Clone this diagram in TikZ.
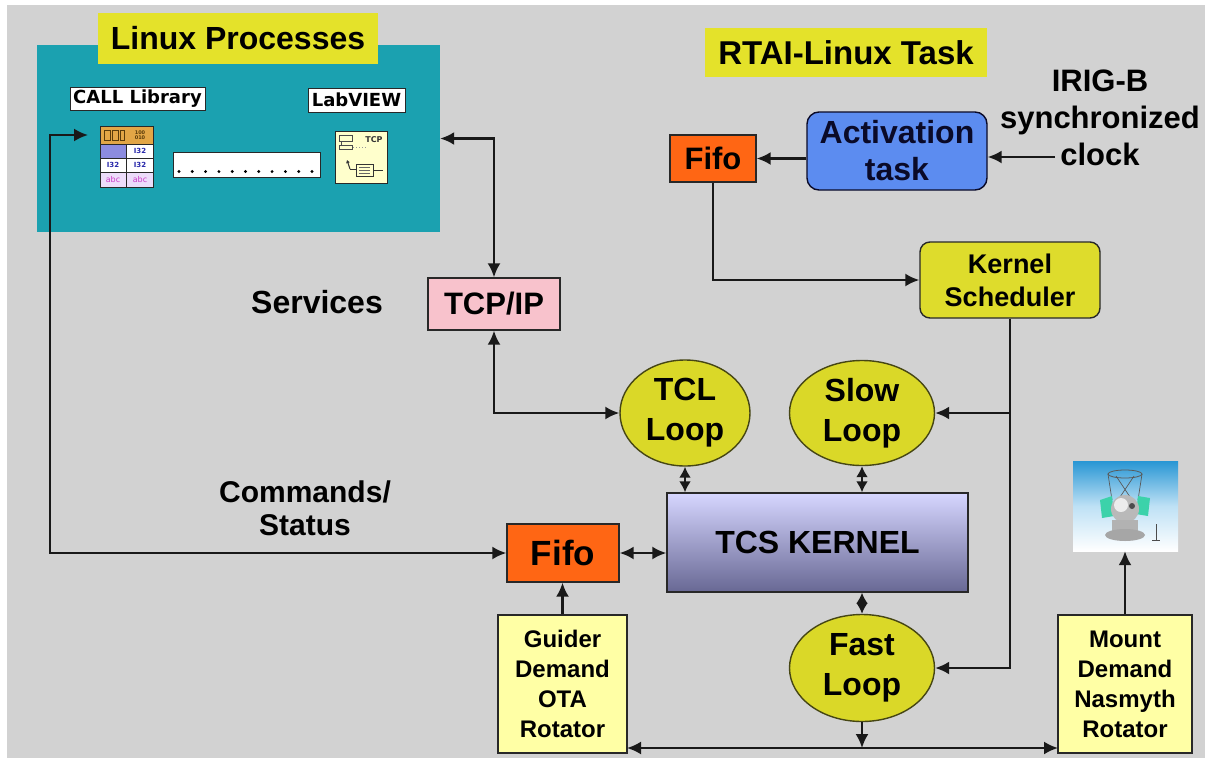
\documentclass[tikz,border=0pt]{standalone}
\usepackage{fontspec}
\setmainfont{Liberation Sans}
\newfontfamily\lvfont{DejaVu Sans}
\usetikzlibrary{shapes.geometric,arrows.meta,calc}

\definecolor{bggray}{RGB}{210,210,210}
\definecolor{tealbox}{RGB}{27,161,176}
\definecolor{taglabel}{RGB}{228,226,42}
\definecolor{loopfill}{RGB}{218,216,40}
\definecolor{loopedge}{RGB}{70,70,20}
\definecolor{schedfill}{RGB}{222,220,44}
\definecolor{fifofill}{RGB}{255,102,20}
\definecolor{pinkfill}{RGB}{248,194,204}
\definecolor{actfill}{RGB}{92,140,240}
\definecolor{acttext}{RGB}{10,10,40}
\definecolor{demandfill}{RGB}{255,255,165}
\definecolor{kerntop}{RGB}{214,214,255}
\definecolor{kernbot}{RGB}{104,104,148}
\definecolor{linecol}{RGB}{25,25,25}
\definecolor{edgecol}{RGB}{40,40,40}
\definecolor{iconorange}{RGB}{226,166,70}
\definecolor{iconbrown}{RGB}{90,60,10}
\definecolor{iconblue}{RGB}{140,140,224}
\definecolor{iconlav}{RGB}{236,220,250}
\definecolor{icondeep}{RGB}{40,40,170}
\definecolor{iconmag}{RGB}{200,60,200}
\definecolor{tcpfill}{RGB}{255,255,204}
\definecolor{skytop}{RGB}{40,150,212}
\definecolor{skymid}{RGB}{190,225,245}
\definecolor{mintgreen}{RGB}{60,210,170}

\newcommand{\fsz}[2]{\bfseries\fontsize{#1}{#2}\selectfont}

\begin{document}
\begin{tikzpicture}[x=1pt,y=-1pt,
  conn/.style={draw=linecol,line width=2.2pt},
  arr/.style={conn,-{Latex[length=14pt,width=13pt]}},
  darr/.style={conn,{Latex[length=14pt,width=13pt]}-{Latex[length=14pt,width=13pt]}},
  sdarr/.style={conn,{Latex[length=11pt,width=12pt]}-{Latex[length=11pt,width=12pt]}},
  tag/.style={fill=taglabel,inner sep=0pt,text=black},
  lvtag/.style={draw=edgecol,line width=0.8pt,fill=white,inner sep=0pt,font=\lvfont\bfseries\fontsize{18}{20}\selectfont},
  blk/.style={draw=edgecol,line width=1.4pt,inner sep=0pt,align=center,text=black},
  loop/.style={blk,draw=loopedge,ellipse,fill=loopfill,font=\fsz{32}{40}},
  plain/.style={inner sep=0pt,align=center,text=black}
]
\useasboundingbox (0,0) rectangle (1208,758);
\fill[white] (0,0) rectangle (1208,758);
\fill[bggray] (7,5) rectangle (1205,758);

% ---- Linux processes panel ----
\node[fill=tealbox,inner sep=0pt,minimum width=403pt,minimum height=187pt] (lp) at (238.5,138.5) {};
\node[tag,font=\fsz{32}{36},minimum width=280pt,minimum height=51pt] (lptitle) at (238,38) {Linux Processes};
\node[lvtag,minimum width=135pt,minimum height=23pt] (calllbl) at (137.5,98.5) {CALL Library};
\node[lvtag,minimum width=97pt,minimum height=24pt] (lvlbl) at (356.5,100) {LabVIEW};

% CALL library icon
\node[draw=edgecol,line width=1pt,fill=white,inner sep=0pt,minimum width=53pt,minimum height=61pt] (callicon) at (126.5,156.5) {};
\fill[iconorange] (100.5,126.5) rectangle (152.5,144);
\fill[iconblue] (100.5,144) rectangle (126.5,158);
\fill[iconlav] (100.5,172) rectangle (152.5,186.5);
\draw[edgecol,line width=0.8pt] (100.5,144) -- (152.5,144) (100.5,158) -- (152.5,158) (100.5,172) -- (152.5,172) (126.5,144) -- (126.5,186.5);
\draw[iconbrown,line width=0.9pt] (104,130) rectangle (110,140) (112,130) rectangle (118,140) (120,130) rectangle (124,140);
\node[plain,font=\lvfont\bfseries\fontsize{5}{5}\selectfont,text=iconbrown,align=center] (callbits) at (140,135) {100\\010};
\foreach \cx/\cy in {140/151, 113/165, 140/165}
  \node[plain,font=\lvfont\bfseries\fontsize{7}{7}\selectfont,text=icondeep] at (\cx,\cy) {I32};
\foreach \cx in {113,140}
  \node[plain,font=\lvfont\fontsize{8}{8}\selectfont,text=iconmag] at (\cx,179.5) {abc};

% dotted placeholder
\node[draw=edgecol,line width=1pt,fill=white,inner sep=0pt,minimum width=147pt,minimum height=25pt] (dotbox) at (246.5,164.5) {};
\foreach \i in {0,...,10} \fill[black] (179+\i*13.3,171.5) circle (1.6pt);

% TCP icon
\node[draw=edgecol,line width=1pt,fill=tcpfill,inner sep=0pt,minimum width=52pt,minimum height=52pt] (tcpicon) at (361,157) {};
\node[plain,font=\lvfont\bfseries\fontsize{8}{8}\selectfont,text=black!80] (tcptxt) at (374,140) {TCP};
\draw[black!70,line width=0.8pt] (339,135) rectangle (352,141) (341,141) -- (341,145) (339,145) rectangle (352,149);
\draw[black!40,line width=1pt,dotted] (353,147) -- (366,147);
\draw[black!80,line width=1pt,-{Latex[length=3pt,width=4pt]}] (350,169) -- (347,160);
\draw[black!80,line width=0.9pt] (350,169) -- (356,169) (356,164) rectangle (373,176) (373,170) -- (383,170);
\draw[black!60,line width=0.6pt] (359,167) -- (370,167) (359,170) -- (370,170) (359,173) -- (370,173);

% ---- RTAI side ----
\node[tag,font=\fsz{33}{36},minimum width=282pt,minimum height=49pt] (rtai) at (846,52.5) {RTAI-Linux Task};
\node[plain,font=\fsz{31}{37}] (irig) at (1100,118) {IRIG-B\\synchronized\\clock};
\coordinate (clk) at (1055,157);
\node[blk,draw=acttext,rounded corners=12pt,fill=actfill,minimum width=180pt,minimum height=78pt,font=\fsz{32}{37},text=acttext] (act) at (897,151) {Activation\\task};
\node[blk,fill=fifofill,minimum width=86pt,minimum height=47pt,font=\fsz{31}{34}] (fifo1) at (713,158.5) {Fifo};
\node[blk,rounded corners=10pt,fill=schedfill,minimum width=180pt,minimum height=76pt,font=\fsz{27}{33}] (ks) at (1010,280) {Kernel\\Scheduler};

% ---- services and kernel ----
\node[plain,font=\fsz{32}{34}] (serv) at (317,302) {Services};
\node[blk,fill=pinkfill,minimum width=132pt,minimum height=52pt,font=\fsz{31}{34}] (tcpip) at (494,304) {TCP/IP};
\node[loop,minimum width=130pt,minimum height=106pt] (tcl) at (685,413) {TCL\\Loop};
\node[loop,minimum width=145pt,minimum height=105pt] (slow) at (862,413) {Slow\\Loop};
\node[blk,top color=kerntop,bottom color=kernbot,minimum width=301pt,minimum height=99pt,font=\fsz{32}{35}] (tcs) at (817.5,542.5) {TCS KERNEL};
\node[blk,fill=fifofill,minimum width=112pt,minimum height=58pt,font=\fsz{35}{38}] (fifo2) at (563,553) {Fifo};
\node[loop,minimum width=145pt,minimum height=107pt] (fast) at (862,668) {Fast\\Loop};
\node[plain,font=\fsz{30}{33}] (cmd) at (305,508) {Commands/\\Status};

\node[blk,fill=demandfill,minimum width=129pt,minimum height=138pt,font=\fsz{24}{30}] (guider) at (562.5,684) {Guider\\Demand\\OTA\\Rotator};
\node[blk,fill=demandfill,minimum width=134pt,minimum height=138pt,font=\fsz{24}{30}] (mount) at (1125,684) {Mount\\Demand\\Nasmyth\\Rotator};

% telescope picture
\node[inner sep=0pt,minimum width=105pt,minimum height=90pt,top color=skytop,bottom color=white,middle color=skymid] (scope) at (1125.5,506) {};
\draw[gray!70!black,line width=0.8pt] (1125,474) ellipse (17pt and 4pt);
\draw[gray!70!black,line width=0.7pt] (1108,474) -- (1112,500) (1142,474) -- (1138,500) (1116,476) -- (1132,500) (1134,476) -- (1118,500);
\fill[mintgreen] (1100,500) -- (1112,496) -- (1114,516) -- (1102,518) -- cycle;
\fill[mintgreen] (1150,498) -- (1138,496) -- (1136,514) -- (1148,516) -- cycle;
\fill[gray!55] (1125,509) circle (14pt);
\fill[white!85!gray] (1121,505) circle (7pt);
\fill[black!70] (1132,506) circle (3pt);
\fill[gray!60] (1112,520) rectangle (1138,532);
\fill[gray!70] (1125,535) ellipse (20pt and 6pt);
\draw[gray!60!black,line width=0.6pt] (1156,524) -- (1156,540) (1152,540) -- (1160,540);

% ---- connectors ----
\coordinate (callin) at (88,135);
\coordinate (cmdturn) at (50,553);
\coordinate (busL) at (627,748);
\coordinate (busR) at (1058,748);

\draw[darr] (fifo2.west) -- (cmdturn) |- (callin);
\draw[darr] (tcpip.north) |- (lp.east);
\draw[darr] (tcpip.south) |- (tcl.west);
\draw[arr] (act.west |- fifo1.east) -- (fifo1.east);
\draw[arr] (clk) -- (clk -| act.east);
\draw[arr] (fifo1.south) |- (ks.west);
\draw[arr] (ks.south) |- (fast.east);
\draw[arr] (ks.south |- slow.east) -- (slow.east);
\draw[sdarr] (tcl.south) -- (tcl.south |- tcs.north);
\draw[sdarr] (slow.south) -- (slow.south |- tcs.north);
\draw[sdarr] (tcs.south -| fast.north) -- (fast.north);
\draw[darr] (fifo2.east) -- (fifo2.east -| tcs.west);
\draw[arr] (guider.north) -- (guider.north |- fifo2.south);
\draw[arr] (mount.north) -- (mount.north |- scope.south);
\draw[darr] (busL) -- (busR);
\draw[arr] (fast.south) -- (fast.south |- busL);
\end{tikzpicture}
\end{document}
